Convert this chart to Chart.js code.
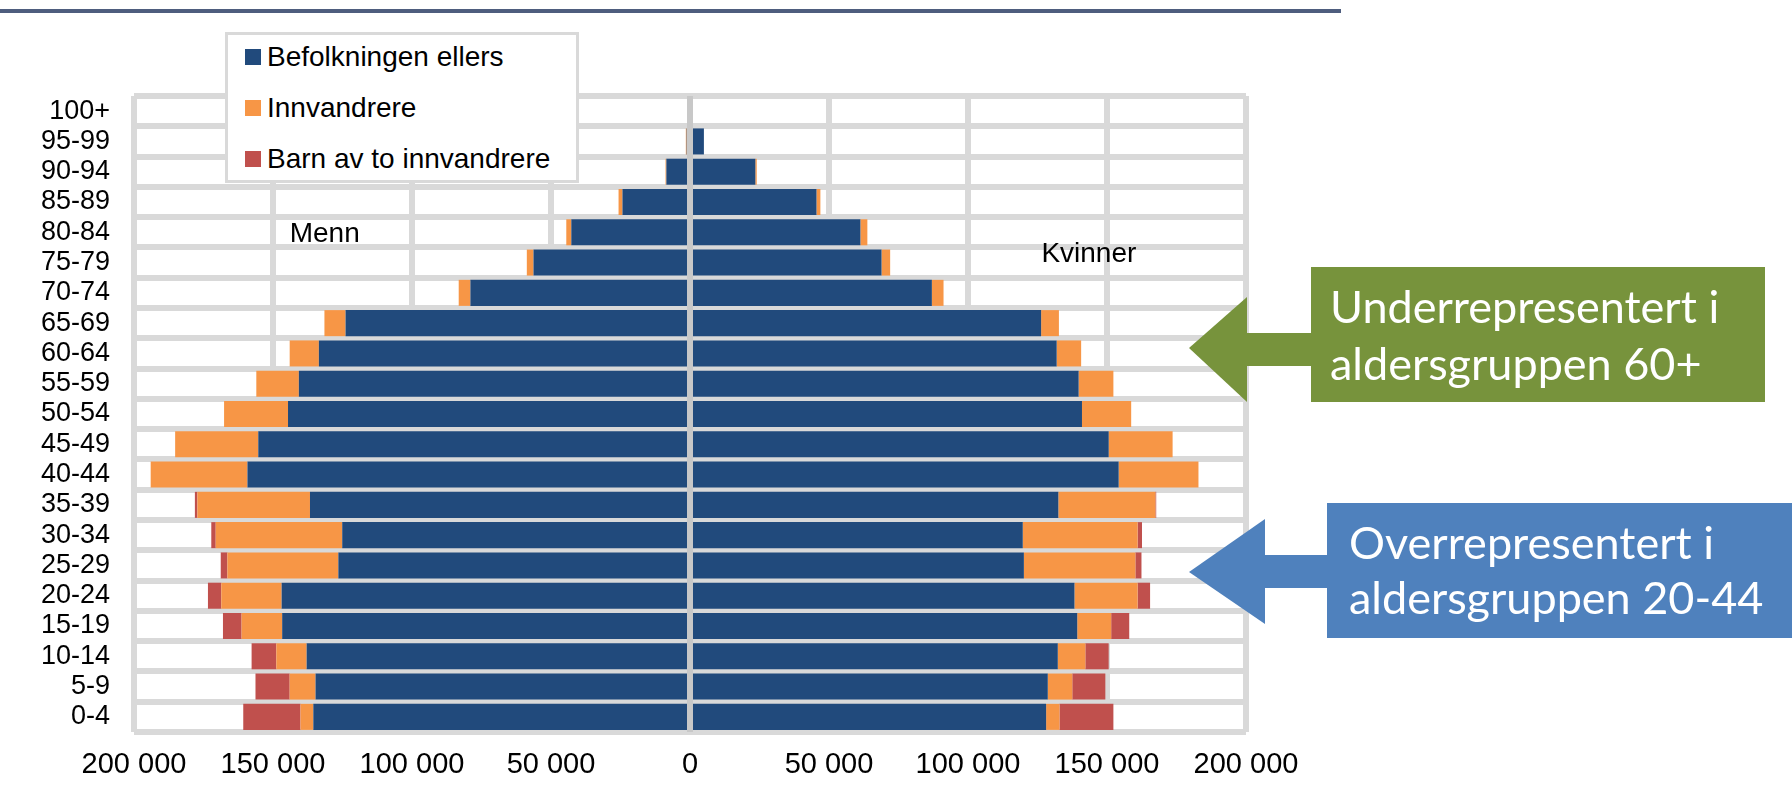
<!DOCTYPE html>
<html>
<head>
<meta charset="utf-8">
<script src="https://cdn.jsdelivr.net/npm/chart.js@4.4.0/dist/chart.umd.min.js"></script>
<style>
  html, body { margin: 0; padding: 0; background: #fff; }
  #wrap { position: relative; width: 1792px; height: 792px; overflow: hidden; }
  #rule { position: absolute; left: 0; top: 9px; width: 1341px; height: 4px; background: #4e5d7e; }
  #legend {
    position: absolute; left: 225px; top: 32px; width: 348px; height: 145px;
    border: 3px solid #d9d9d9; background: #fff;
    font: 28px "Liberation Sans", Arial, sans-serif; color: #000;
  }
  #legend .item { position: absolute; left: 17px; height: 30px; display: flex; align-items: center; white-space: nowrap; }
  #legend .swatch { width: 16px; height: 16px; margin-right: 6px; }
</style>
</head>
<body>
<div id="wrap">
  <canvas id="pyramid" width="1792" height="792"></canvas>
  <div id="rule"></div>
  <div id="legend"></div>
</div>
<script>
// Aldersgrupper, øverst til nederst
const ageGroups = ['100+', '95-99', '90-94', '85-89', '80-84', '75-79', '70-74', '65-69', '60-64', '55-59',
  '50-54', '45-49', '40-44', '35-39', '30-34', '25-29', '20-24', '15-19', '10-14', '5-9', '0-4'];

// Menn
const menOther = [0, 1200, 8500, 24300, 42700, 56300, 79000, 123900, 133500, 140700,
  144600, 155300, 159200, 136700, 125100, 126500, 146900, 146700, 137900, 134700, 135500];
const menImmigrants = [0, 300, 300, 1400, 1800, 2400, 4200, 7600, 10500, 15300,
  23000, 29900, 34800, 40500, 45500, 39900, 21700, 14600, 10900, 9300, 4600];
const menChildren = [0, 0, 0, 0, 0, 0, 0, 0, 0, 0,
  0, 0, 0, 900, 1600, 2400, 4800, 6700, 8900, 12300, 20600];

// Kvinner
const womenOther = [0, 5000, 23500, 45500, 61300, 68900, 87000, 126300, 131900, 139800,
  141000, 150600, 154200, 132500, 119700, 120100, 138300, 139300, 132300, 128700, 128100];
const womenImmigrants = [0, 0, 500, 1400, 2500, 3100, 4200, 6400, 8800, 12500,
  17700, 23000, 28700, 34900, 41300, 40100, 22700, 12200, 9900, 8800, 4800];
const womenChildren = [0, 0, 0, 0, 0, 0, 0, 0, 0, 0,
  0, 0, 0, 300, 1600, 2200, 4500, 6500, 8400, 11900, 19400];

const seriesNames = ['Befolkningen ellers', 'Innvandrere', 'Barn av to innvandrere'];
const seriesColors = ['#214a7c', '#f79646', '#c0504d'];

const xMin = -200000, xMax = 200000, xStep = 50000;

Chart.defaults.font.family = '"Liberation Sans", Arial, sans-serif';

function bars(label, values, color, negative) {
  return {
    label: label,
    data: negative ? values.map(v => -v) : values,
    backgroundColor: color,
    borderWidth: 0,
    stack: 'pyramid',
    categoryPercentage: 1,
    barPercentage: 0.86
  };
}

const datasets = [
  bars(seriesNames[0], menOther, seriesColors[0], true),
  bars(seriesNames[1], menImmigrants, seriesColors[1], true),
  bars(seriesNames[2], menChildren, seriesColors[2], true),
  bars(seriesNames[0], womenOther, seriesColors[0], false),
  bars(seriesNames[1], womenImmigrants, seriesColors[1], false),
  bars(seriesNames[2], womenChildren, seriesColors[2], false)
];

function spaced(n) {
  return String(Math.abs(n)).replace(/\B(?=(\d{3})+(?!\d))/g, ' ');
}

// grey line at 0 drawn over the bars
const zeroLine = {
  id: 'zeroLine',
  afterDatasetsDraw(chart) {
    const { ctx, chartArea, scales } = chart;
    const px = scales.x.getPixelForValue(0);
    ctx.save();
    ctx.strokeStyle = '#c8c8c8';
    ctx.lineWidth = 6;
    ctx.beginPath();
    ctx.moveTo(px, chartArea.top);
    ctx.lineTo(px, chartArea.bottom);
    ctx.stroke();
    ctx.restore();
  }
};

// "Menn" / "Kvinner" inside the plot
const sideLabels = {
  id: 'sideLabels',
  afterDatasetsDraw(chart) {
    const { ctx, scales } = chart;
    const row = scales.y.getPixelForValue(4);
    ctx.save();
    ctx.font = '28px "Liberation Sans", Arial, sans-serif';
    ctx.fillStyle = '#000';
    ctx.textBaseline = 'middle';
    ctx.textAlign = 'left';
    ctx.fillText('Menn', scales.x.getPixelForValue(-144000), row + 2);
    ctx.fillText('Kvinner', scales.x.getPixelForValue(126400), row + 22);
    ctx.restore();
  }
};

// arrow callouts to the right of the chart
const callouts = [
  { color: '#77933c', tip: [1189, 348], headX: 1247, head: [297, 402], shaft: [333, 366],
    box: [1311, 267, 1765, 402], textX: 1330, lines: ['Underrepresentert i', 'aldersgruppen 60+'], baselines: [323, 380] },
  { color: '#4f81bd', tip: [1189, 572], headX: 1265, head: [519, 624], shaft: [555, 588],
    box: [1327, 503, 1792, 638], textX: 1349, lines: ['Overrepresentert i', 'aldersgruppen 20-44'], baselines: [559, 614] }
];

const calloutPlugin = {
  id: 'callouts',
  afterDraw(chart) {
    const ctx = chart.ctx;
    ctx.save();
    callouts.forEach(c => {
      ctx.fillStyle = c.color;
      ctx.fillRect(c.box[0], c.box[1], c.box[2] - c.box[0], c.box[3] - c.box[1]);
      ctx.fillRect(c.headX - 1, c.shaft[0], c.box[0] - c.headX + 2, c.shaft[1] - c.shaft[0]);
      ctx.beginPath();
      ctx.moveTo(c.tip[0], c.tip[1]);
      ctx.lineTo(c.headX, c.head[0]);
      ctx.lineTo(c.headX, c.head[1]);
      ctx.closePath();
      ctx.fill();
      ctx.fillStyle = '#fff';
      ctx.font = '45px Lato, "Open Sans", sans-serif';
      ctx.textBaseline = 'alphabetic';
      c.lines.forEach((t, i) => ctx.fillText(t, c.textX, c.baselines[i]));
    });
    ctx.restore();
  }
};

const chart = new Chart(document.getElementById('pyramid'), {
  type: 'bar',
  data: { labels: ageGroups, datasets: datasets },
  options: {
    indexAxis: 'y',
    responsive: false,
    animation: false,
    layout: { padding: { left: 0, top: 96, right: 546, bottom: 0 } },
    plugins: { legend: { display: false }, tooltip: { enabled: false } },
    scales: {
      x: {
        type: 'linear',
        stacked: true,
        min: xMin,
        max: xMax,
        ticks: {
          stepSize: xStep,
          padding: 16,
          color: '#000',
          font: { size: 29 },
          callback: v => spaced(v)
        },
        grid: { color: '#d9d9d9', lineWidth: 6, drawTicks: false },
        border: { display: false },
        afterFit: s => { s.height = 60; }
      },
      y: {
        stacked: true,
        ticks: { padding: 24, color: '#000', font: { size: 27 }, autoSkip: false },
        grid: { color: '#d9d9d9', lineWidth: 6, drawTicks: false, offset: true },
        border: { display: false },
        afterFit: s => { s.width = 134; }
      }
    }
  },
  plugins: [zeroLine, sideLabels, calloutPlugin]
});

// legend box, one entry per series
const legendEl = document.getElementById('legend');
[22, 73, 124].forEach((cy, i) => {
  const item = document.createElement('div');
  item.className = 'item';
  item.style.top = (cy - 15) + 'px';
  const sw = document.createElement('span');
  sw.className = 'swatch';
  sw.style.background = chart.data.datasets[i].backgroundColor;
  item.appendChild(sw);
  item.appendChild(document.createTextNode(chart.data.datasets[i].label));
  legendEl.appendChild(item);
});
</script>
</body>
</html>
